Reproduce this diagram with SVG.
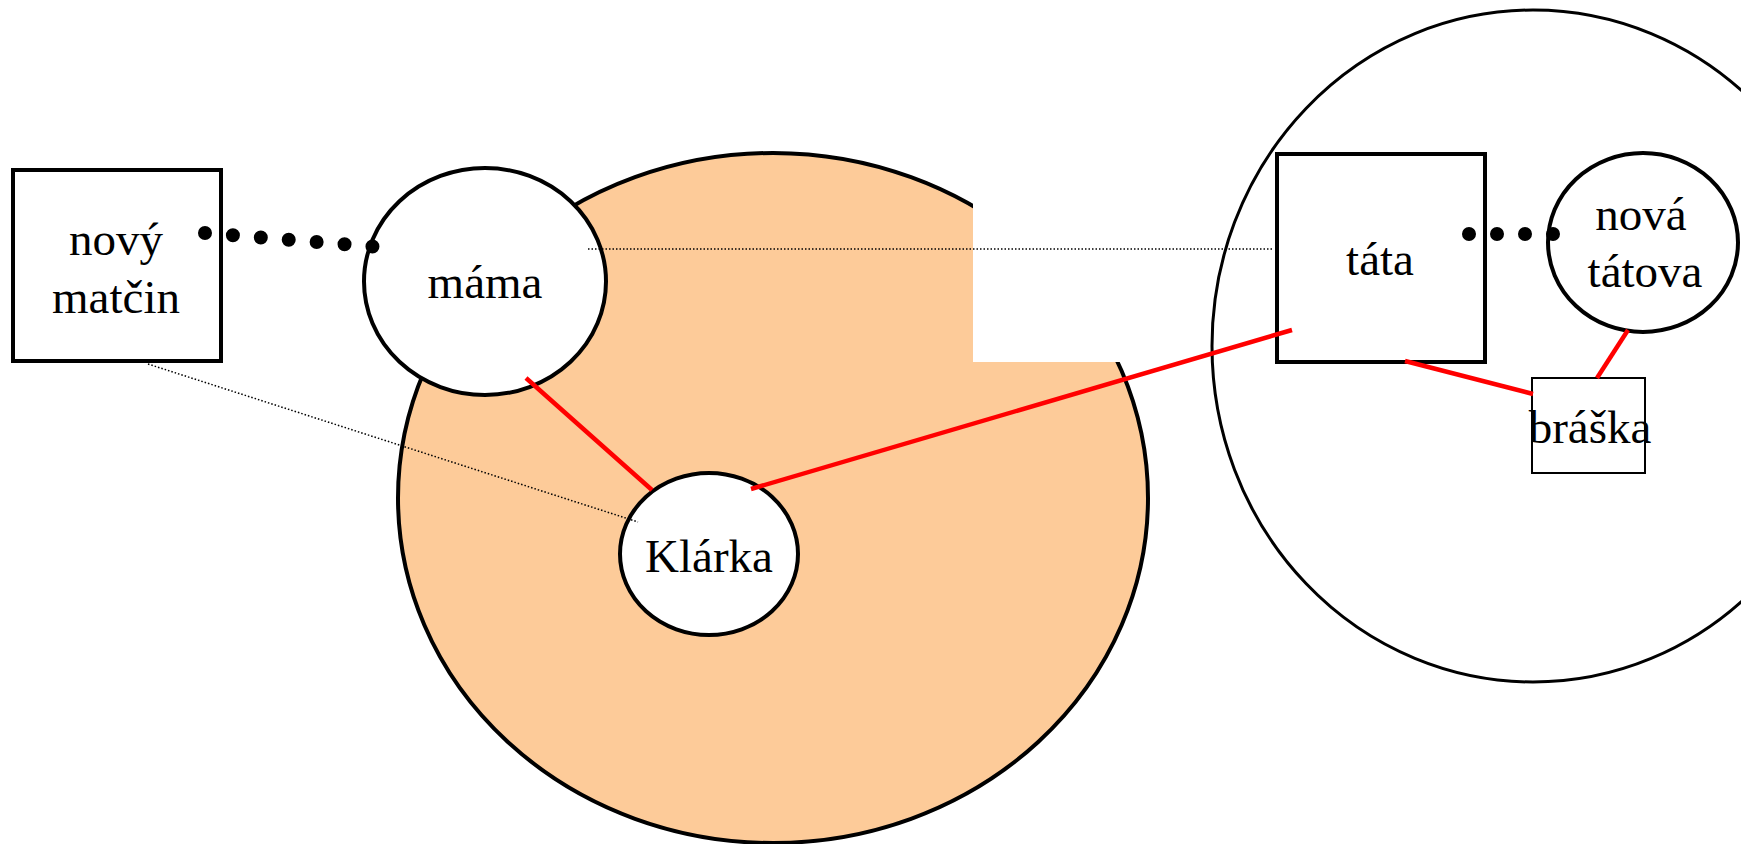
<svg xmlns="http://www.w3.org/2000/svg" width="1741" height="844" viewBox="0 0 1741 844">
<style>
  .lbl { font-family: "Liberation Serif", "Times New Roman", serif; font-size: 47px; fill: #000; text-anchor: middle; }
  .node { fill: #fff; stroke: #000; stroke-width: 4; }
  .red { stroke: #ff0000; stroke-width: 4.5; fill: none; }
  .dots { stroke: #000; stroke-width: 14; stroke-linecap: round; stroke-dasharray: 0 28; fill: none; }
  .thin { stroke: #000; stroke-width: 1.5; stroke-dasharray: 1.5 2; fill: none; }
</style>
<rect x="0" y="0" width="1741" height="844" fill="#fff"/>
<g id="backdrop">
  <ellipse id="klarka-world" cx="773" cy="498" rx="375" ry="345" fill="#FDCB99" stroke="#000" stroke-width="4"/>
  <rect x="973" y="185" width="180" height="177" fill="#fff"/>
  <ellipse id="tata-world" cx="1533" cy="346" rx="321" ry="336" fill="none" stroke="#000" stroke-width="3"/>
</g>
<g id="novy-matcin">
  <rect class="node" x="13" y="170" width="208" height="191"/>
  <text class="lbl" x="116" y="255">nový</text>
  <text class="lbl" x="116" y="313">matčin</text>
</g>
<g id="mama">
  <ellipse class="node" cx="485" cy="281.5" rx="121" ry="113.5"/>
  <text class="lbl" x="485" y="298">máma</text>
</g>
<g id="klarka">
  <ellipse class="node" cx="709" cy="554" rx="89" ry="81"/>
  <text class="lbl" x="709" y="572">Klárka</text>
</g>
<g id="tata">
  <rect class="node" x="1277" y="154" width="208" height="208"/>
  <text class="lbl" x="1380" y="275">táta</text>
</g>
<g id="nova-tatova">
  <ellipse class="node" cx="1643" cy="242.5" rx="95" ry="89.5"/>
  <text class="lbl" x="1641" y="230">nová</text>
  <text class="lbl" x="1645" y="287">tátova</text>
</g>
<g id="braska">
  <rect x="1532" y="378" width="113" height="95" fill="#fff" stroke="#000" stroke-width="2"/>
  <text class="lbl" x="1590" y="443">bráška</text>
</g>
<g id="connectors">
  <line class="dots" x1="205" y1="233" x2="378" y2="247"/>
  <line class="dots" x1="1469" y1="234" x2="1556" y2="234"/>
  <line class="thin" x1="588" y1="249" x2="1273" y2="249"/>
  <line class="thin" x1="148" y1="364" x2="638" y2="522"/>
  <line class="red" x1="526" y1="378" x2="652" y2="490"/>
  <line class="red" x1="751" y1="489" x2="1292" y2="330"/>
  <line class="red" x1="1405" y1="361" x2="1533" y2="394"/>
  <line class="red" x1="1628" y1="330" x2="1597" y2="378"/>
</g>
</svg>
